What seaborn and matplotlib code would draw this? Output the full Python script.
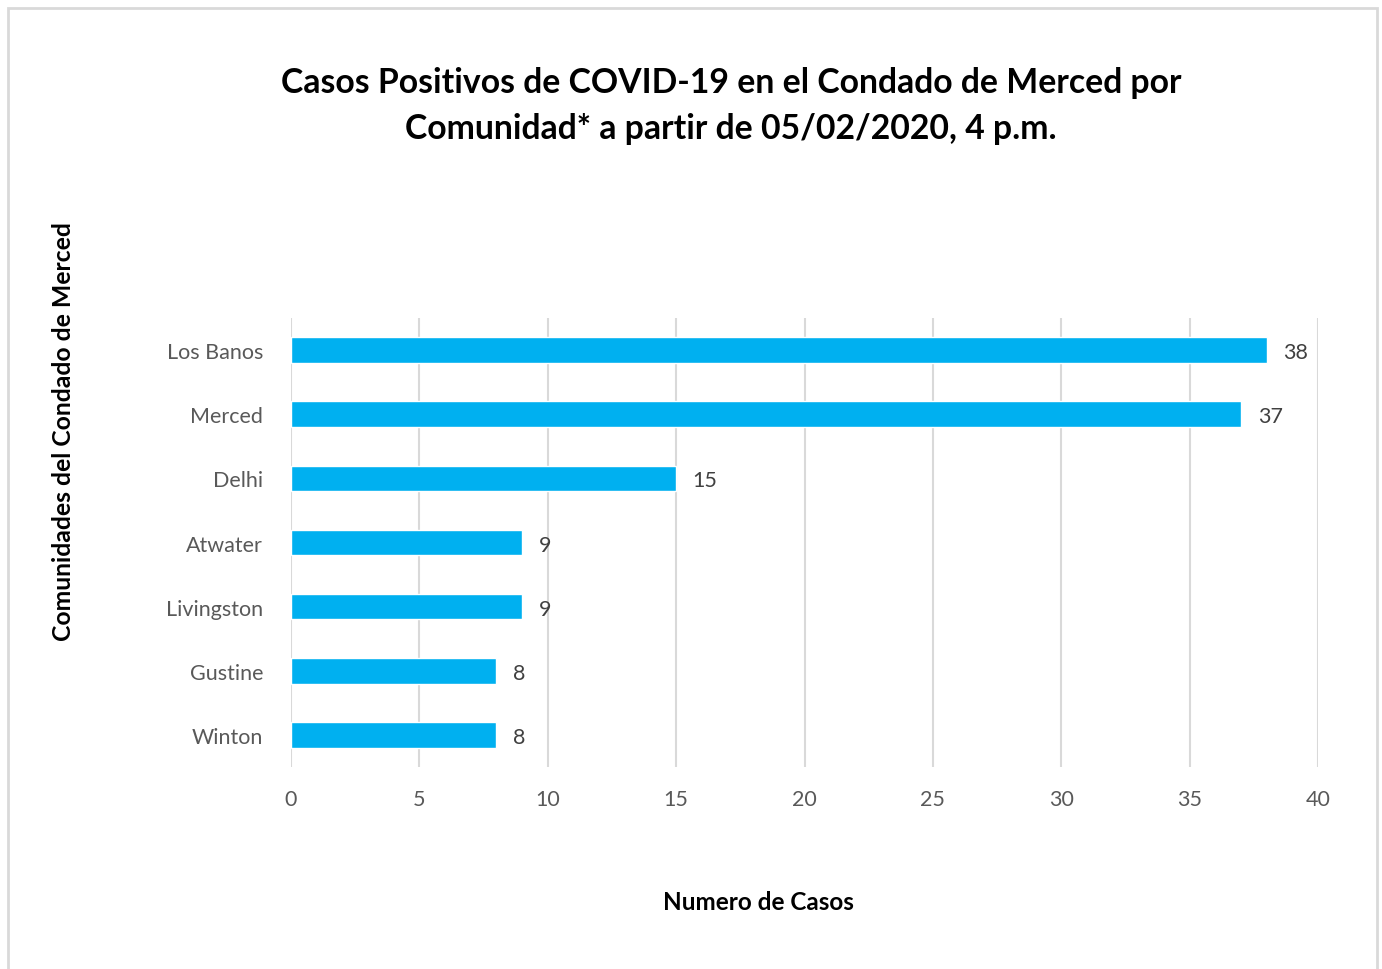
import matplotlib
matplotlib.use("Agg")
import matplotlib.pyplot as plt
import seaborn as sns
import pandas as pd
from matplotlib.patches import Rectangle

communities = ["Los Banos", "Merced", "Delhi", "Atwater", "Livingston", "Gustine", "Winton"]
cases = [38, 37, 15, 9, 9, 8, 8]
xticks = [0, 5, 10, 15, 20, 25, 30, 35, 40]

df = pd.DataFrame({"Comunidad": communities, "Casos": cases})

sns.set_theme(style="white")
plt.rcParams["font.family"] = ["Lato", "DejaVu Sans"]

fig = plt.figure(figsize=(13.82, 9.70), dpi=100)
ax = fig.add_axes([291/1382, 1-768/970, (1318-291)/1382, (768-319)/970])

sns.barplot(data=df, x="Casos", y="Comunidad", orient="h", color="#00B0F0",
            saturation=1, width=0.4, ax=ax, zorder=3)

ax.set_xlim(0, 40)
ax.set_ylim(6.5, -0.5)
ax.set_xticks(xticks)
ax.set_xticklabels([str(t) for t in xticks])
ax.grid(axis="x", color="#D9D9D9", linewidth=1.5, zorder=0)
ax.grid(axis="y", visible=False)
for s in ax.spines.values():
    s.set_visible(False)
ax.tick_params(axis="both", length=0, labelsize=15.5, labelcolor="#595959")
ax.tick_params(axis="x", pad=16)
ax.tick_params(axis="y", pad=20)

for c in ax.containers:
    texts = ax.bar_label(c, labels=[str(v) for v in cases], padding=12, fontsize=15.5,
                         color="#404040")
    for t in texts:
        t.set_verticalalignment("center_baseline")

ax.set_xlabel("")
ax.set_ylabel("")
fig.text(758/1382, 1-903/970, "Numero de Casos", ha="center", va="center",
         fontsize=17.5, fontweight="bold", color="black")
fig.text(64/1382, 1-432/970, "Comunidades del Condado de Merced", ha="center", va="center",
         rotation=90, fontsize=17.8, fontweight="bold", color="black")
fig.text(731/1382, 1-106/970,
         "Casos Positivos de COVID-19 en el Condado de Merced por\nComunidad* a partir de 05/02/2020, 4 p.m.",
         ha="center", va="center", fontsize=24.3, fontweight="bold", color="black",
         linespacing=1.55)

fig.patches.append(Rectangle((8/1382, -0.01), (1377-8)/1382, 1.01-9/970,
                             transform=fig.transFigure, fill=False,
                             edgecolor="#D9D9D9", linewidth=2))

fig.savefig("out.png", dpi=100)
